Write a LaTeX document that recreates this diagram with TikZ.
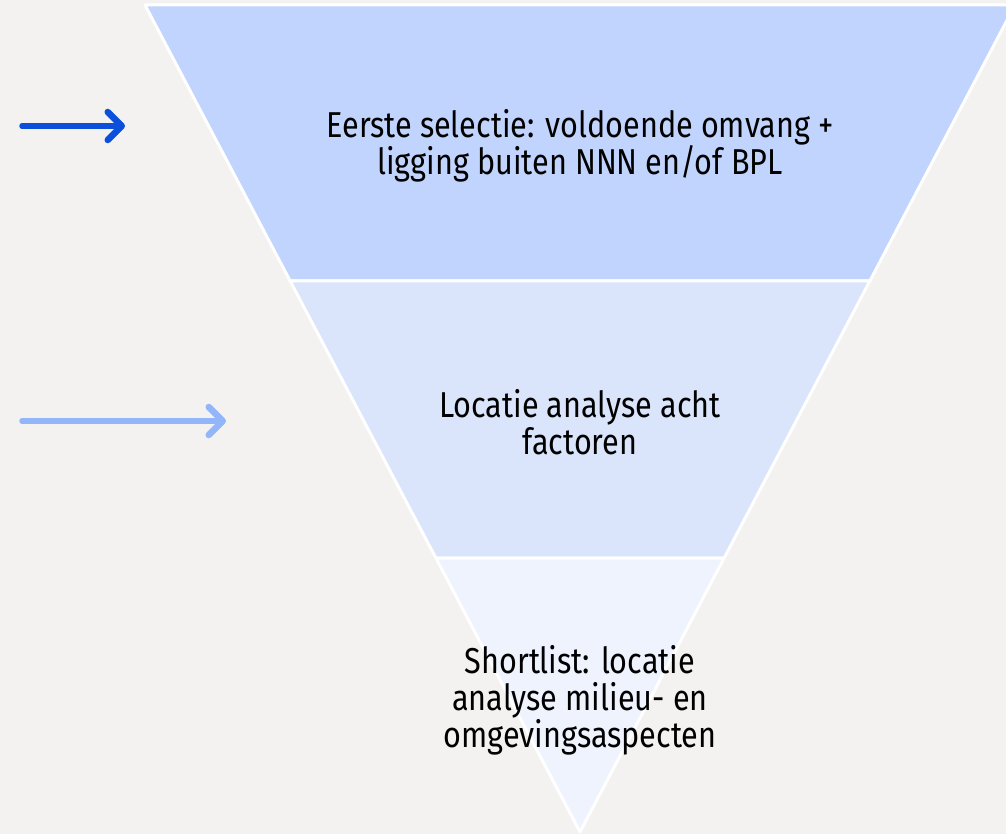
\documentclass[tikz,border=0pt]{standalone}
\usepackage{fontspec}
\setmainfont{Fira Sans}[FakeStretch=0.85]
\usetikzlibrary{calc,arrows.meta}
\definecolor{bgcol}{HTML}{F3F2F0}
\definecolor{bandA}{HTML}{C1D4FD}
\definecolor{bandB}{HTML}{DAE5FC}
\definecolor{bandC}{HTML}{EEF3FE}
\definecolor{arrowdark}{HTML}{0B4FDB}
\definecolor{arrowlight}{HTML}{93B5F9}
\begin{document}
\begin{tikzpicture}[x=1pt, y=-1pt, line join=round, line cap=round,
  font=\fontsize{36}{37}\selectfont,
  band/.style={draw=white, line width=3pt},
  lbl/.style={align=center, inner sep=0pt},
  pointer/.style={line width=5.5pt, -{Straight Barb[length=14pt, width=28pt, line width=6.5pt, line cap=round, line join=round]}}]
\fill[bgcol](0,0)rectangle(1006,834);
\useasboundingbox(0,0)rectangle(1006,834);
\def\ta{0.3337}
\def\tb{0.6687}
% funnel outline and the two cut lines
\path(145,5)coordinate(A)(1015,5)coordinate(B)(580,832)coordinate(O);
\path($(A)!\ta!(O)$)coordinate(A1)($(B)!\ta!(O)$)coordinate(B1);
\path($(A)!\tb!(O)$)coordinate(A2)($(B)!\tb!(O)$)coordinate(B2);
\filldraw[band, fill=bandA](A)--(B)--(B1)--(A1)--cycle;
\filldraw[band, fill=bandB](A1)--(B1)--(B2)--(A2)--cycle;
\filldraw[band, fill=bandC](A2)--(B2)--(O)--cycle;
% labels
\node[lbl](sel) at (580,146){Eerste selectie: voldoende omvang +\\ligging buiten NNN en/of BPL};
\node[lbl](loc) at (580,422){Locatie analyse acht\\factoren};
\node[lbl](shl) at (580,700){Shortlist: locatie\\analyse milieu- en\\omgevingsaspecten};
% pointers
\coordinate(p1) at (22,126);
\coordinate(q1) at (125,126);
\coordinate(p2) at (22,421);
\coordinate(q2) at (226,421);
\draw[pointer, arrowdark](p1)--(q1);
\draw[pointer, arrowlight](p2)--(q2);
\end{tikzpicture}
\end{document}
